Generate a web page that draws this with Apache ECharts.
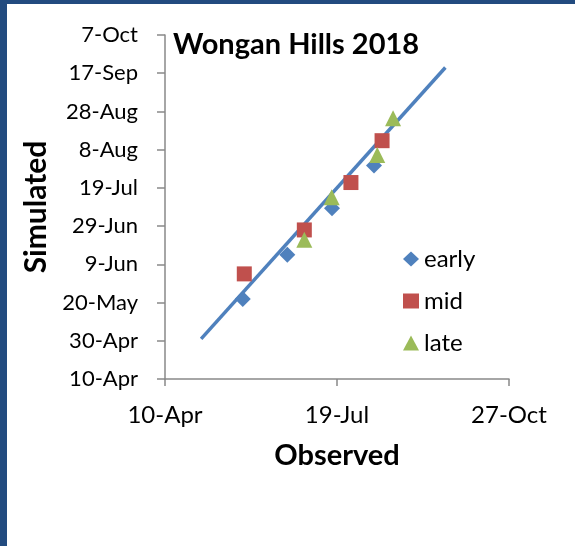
<!DOCTYPE html>
<html>
<head>
<meta charset="utf-8">
<script src="https://cdn.jsdelivr.net/npm/echarts@6/dist/echarts.min.js"></script>
<style>
  html, body { margin: 0; padding: 0; background: #224b7f; }
  #chart { position: absolute; left: 7px; top: 4px; width: 568px; height: 542px; background: #fff; }
</style>
</head>
<body>
<div id="chart"></div>
<script>
// day-of-year 2018 values: [observed, simulated]
var early = [[145.2, 141.8], [171.1, 165], [197.1, 189.4], [221.5, 211.7]]
var mid = [[146.1, 155], [181, 178], [208.1, 202.8], [226.2, 224.7]]
var late = [[181, 172.8], [196.9, 195.1], [223.4, 217.2], [232.6, 236.4]]
var oneToOne = [[121, 121], [263, 263]]

var months = ['Jan', 'Feb', 'Mar', 'Apr', 'May', 'Jun', 'Jul', 'Aug', 'Sep', 'Oct', 'Nov', 'Dec']
function dayLabel (doy) {
  var d = new Date(Date.UTC(2018, 0, doy))
  return d.getUTCDate() + '-' + months[d.getUTCMonth()]
}

var font = 'Lato, "Open Sans", sans-serif'
var axisColor = '#898989'

var chart = echarts.init(document.getElementById('chart'))
chart.setOption({
  animation: false,
  textStyle: { fontFamily: font },
  title: {
    text: 'Wongan Hills 2018',
    left: 161,
    top: 21,
    textStyle: { fontSize: 29, fontWeight: 'bold', color: '#000', fontFamily: font }
  },
  legend: {
    orient: 'vertical',
    left: 391,
    top: 238,
    itemGap: 18,
    itemWidth: 16,
    itemHeight: 15,
    textStyle: { fontSize: 24, color: '#000', fontFamily: font },
    data: ['early', 'mid', 'late']
  },
  grid: { left: 158, top: 31, right: 66, bottom: 167 },
  xAxis: {
    type: 'value',
    min: 100,
    max: 300,
    interval: 100,
    name: 'Observed',
    nameLocation: 'middle',
    nameGap: 62,
    nameTextStyle: { fontSize: 29, fontWeight: 'bold', color: '#000', fontFamily: font },
    axisLine: { show: true, lineStyle: { color: axisColor, width: 1.5 } },
    axisTick: { show: true, length: 7, lineStyle: { color: axisColor, width: 1.5 } },
    splitLine: { show: false },
    axisLabel: { fontSize: 24, color: '#000', margin: 24, formatter: dayLabel }
  },
  yAxis: {
    type: 'value',
    min: 100,
    max: 280,
    interval: 20,
    name: 'Simulated',
    nameLocation: 'middle',
    nameRotate: 90,
    nameGap: 109,
    nameTextStyle: { fontSize: 30, fontWeight: 'bold', color: '#000', fontFamily: font },
    axisLine: { show: true, lineStyle: { color: axisColor, width: 1.5 } },
    axisTick: { show: true, length: 8, lineStyle: { color: axisColor, width: 1.5 } },
    splitLine: { show: false },
    axisLabel: { fontSize: 22, color: '#000', margin: 27, formatter: dayLabel }
  },
  series: [
    {
      name: '1:1',
      type: 'line',
      data: oneToOne,
      symbol: 'none',
      lineStyle: { color: '#4f81bd', width: 3.5 },
      z: 1
    },
    {
      name: 'early',
      type: 'scatter',
      data: early,
      symbol: 'diamond',
      symbolSize: 16,
      itemStyle: { color: '#4f81bd', opacity: 1 },
      z: 3
    },
    {
      name: 'mid',
      type: 'scatter',
      data: mid,
      symbol: 'rect',
      symbolSize: 15,
      itemStyle: { color: '#c0504d', opacity: 1 },
      z: 3
    },
    {
      name: 'late',
      type: 'scatter',
      data: late,
      symbol: 'triangle',
      symbolSize: 16,
      itemStyle: { color: '#9bbb59', opacity: 1 },
      z: 3
    }
  ]
})
</script>
</body>
</html>
